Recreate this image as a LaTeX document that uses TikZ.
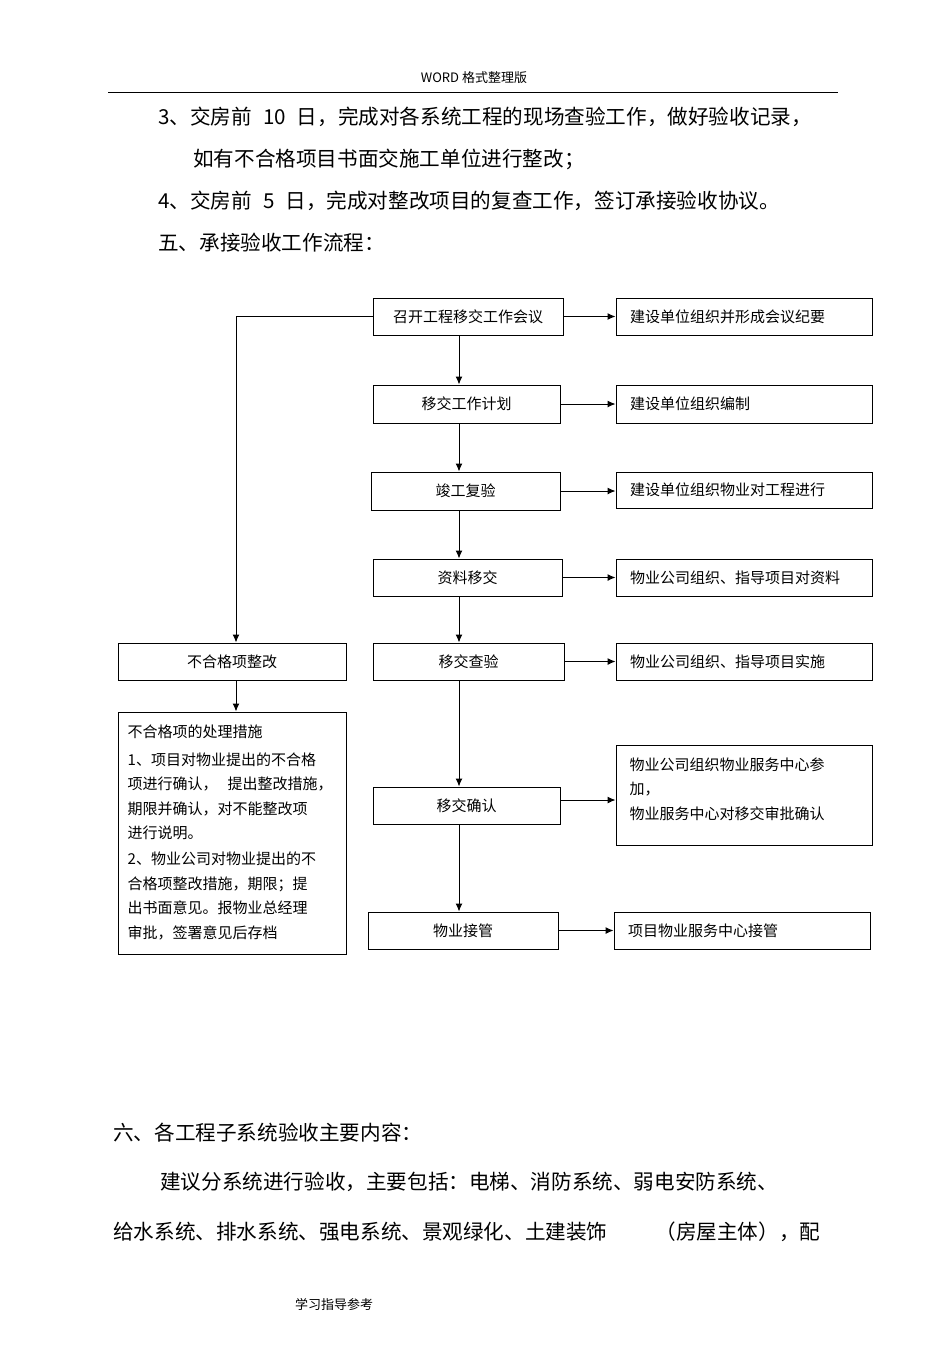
\documentclass[tikz,border=0pt]{standalone}
\usepackage{fontspec}
\setmainfont{Noto Sans CJK SC}
\usetikzlibrary{arrows.meta}
\newcommand{\myBody}{\fontsize{20.6pt}{24pt}\selectfont}
\newcommand{\myBox}{\fontsize{15pt}{24.5pt}\selectfont}
\newcommand{\mySmall}{\fontsize{13pt}{15pt}\selectfont}
\begin{document}
\begin{tikzpicture}[x=1pt,y=-1pt,
  cbox/.style={draw, line width=1pt, inner sep=0pt, font=\myBox},
  rbox/.style={draw, line width=1pt, inner sep=0pt, text width=228pt, inner xsep=14pt, align=left, font=\myBox},
  arr/.style={line width=1pt, -{Latex[length=8pt,width=7pt]}},
  body/.style={anchor=west, inner sep=0pt, font=\myBody},
  lbl/.style={anchor=north west, inner sep=0pt, align=left, font=\myBox}]
\useasboundingbox[fill=white] (0,0) rectangle (950,1345);
% header
\node[inner sep=0pt, font=\mySmall] (hdr) at (474,78) {WORD 格式整理版};
\draw[line width=1pt] (108,92) -- (838,92);
% top text
\node[body] (t1) at (158,117) {3、交房前\hspace{11pt}10\hspace{11pt}日，完成对各系统工程的现场查验工作，做好验收记录，};
\node[body] (t2) at (193,159) {如有不合格项目书面交施工单位进行整改；};
\node[body] (t3) at (158,201) {4、交房前\hspace{11pt}5\hspace{11pt}日，完成对整改项目的复查工作，签订承接验收协议。};
\node[body] (t4) at (158,243) {五、承接验收工作流程：};
% central column
\coordinate (spine) at (459,0);
\coordinate (loopx) at (236,0);
\node[cbox, minimum width=190pt, minimum height=37pt] (A) at (468,316.5) {召开工程移交工作会议};
\node[cbox, minimum width=187pt, minimum height=38pt] (B) at (466.5,404) {移交工作计划};
\node[cbox, minimum width=189pt, minimum height=38pt] (C) at (465.5,491) {竣工复验};
\node[cbox, minimum width=189pt, minimum height=37pt] (D) at (467.5,577.5) {资料移交};
\node[cbox, minimum width=191pt, minimum height=37pt] (E) at (468.5,661.5) {移交查验};
\node[cbox, minimum width=187pt, minimum height=37pt] (F) at (466.5,805.5) {移交确认};
\node[cbox, minimum width=190pt, minimum height=37pt] (G) at (463,930.5) {物业接管};
% right column
\node[rbox, minimum height=37pt] (A2) at (744,316.5) {建设单位组织并形成会议纪要};
\node[rbox, minimum height=38pt] (B2) at (744,404) {建设单位组织编制};
\node[rbox, minimum height=36pt] (C2) at (744,490) {建设单位组织物业对工程进行};
\node[rbox, minimum height=37pt] (D2) at (744,577.5) {物业公司组织、指导项目对资料};
\node[rbox, minimum height=37pt] (E2) at (744,661.5) {物业公司组织、指导项目实施};
\node[draw, line width=1pt, minimum width=256pt, minimum height=100pt, inner sep=0pt] (F2) at (744,795) {};
\node[lbl] (F2t) at ([shift={(14pt,-13pt)}]F2.north west) {物业公司组织物业服务中心参\\加，\\物业服务中心对移交审批确认};
\node[rbox, minimum height=37pt] (G2) at (742,930.5) {项目物业服务中心接管};
% left column
\node[cbox, minimum width=228pt, minimum height=37pt] (L1) at (232,661.5) {不合格项整改};
\node[draw, line width=1pt, minimum width=228pt, minimum height=242pt, inner sep=0pt] (L2) at (232,833) {};
\node[lbl] (L2t) at ([shift={(10pt,-13pt)}]L2.north west) {不合格项的处理措施\\[3.5pt]
1、项目对物业提出的不合格\\
项进行确认，\hspace{10pt}提出整改措施，\\
期限并确认，对不能整改项\\
进行说明。\\[1.5pt]
2、物业公司对物业提出的不\\
合格项整改措施，期限；提\\
出书面意见。报物业总经理\\
审批，签署意见后存档};
% vertical arrows
\draw[arr] (A.south -| spine) -- (B.north -| spine);
\draw[arr] (B.south -| spine) -- (C.north -| spine);
\draw[arr] (C.south -| spine) -- (D.north -| spine);
\draw[arr] (D.south -| spine) -- (E.north -| spine);
\draw[arr] (E.south -| spine) -- (F.north -| spine);
\draw[arr] (F.south -| spine) -- (G.north -| spine);
% horizontal arrows
\draw[arr] (A.east) -- (A2.west);
\draw[arr] (B.east) -- (B2.west);
\draw[arr] (C.east) -- (C2.west |- C.east);
\draw[arr] (D.east) -- (D2.west);
\draw[arr] (E.east) -- (E2.west);
\draw[arr] (F.east |- 0,800) -- (F2.west |- 0,800);
\draw[arr] (G.east) -- (G2.west);
% loop to left
\draw[arr] (A.west) -| (L1.north -| loopx);
\draw[arr] (L1.south -| loopx) -- (L2.north -| loopx);
% bottom text
\node[body] (b1) at (113,1133) {六、各工程子系统验收主要内容：};
\node[body] (b2) at (160,1182) {建议分系统进行验收，主要包括：电梯、消防系统、弱电安防系统、};
\node[body] (b3) at (113,1232) {给水系统、排水系统、强电系统、景观绿化、土建装饰\hspace{48pt}（房屋主体），配};
\node[inner sep=0pt, font=\mySmall] (ftr) at (334,1304) {学习指导参考};
\end{tikzpicture}
\end{document}
